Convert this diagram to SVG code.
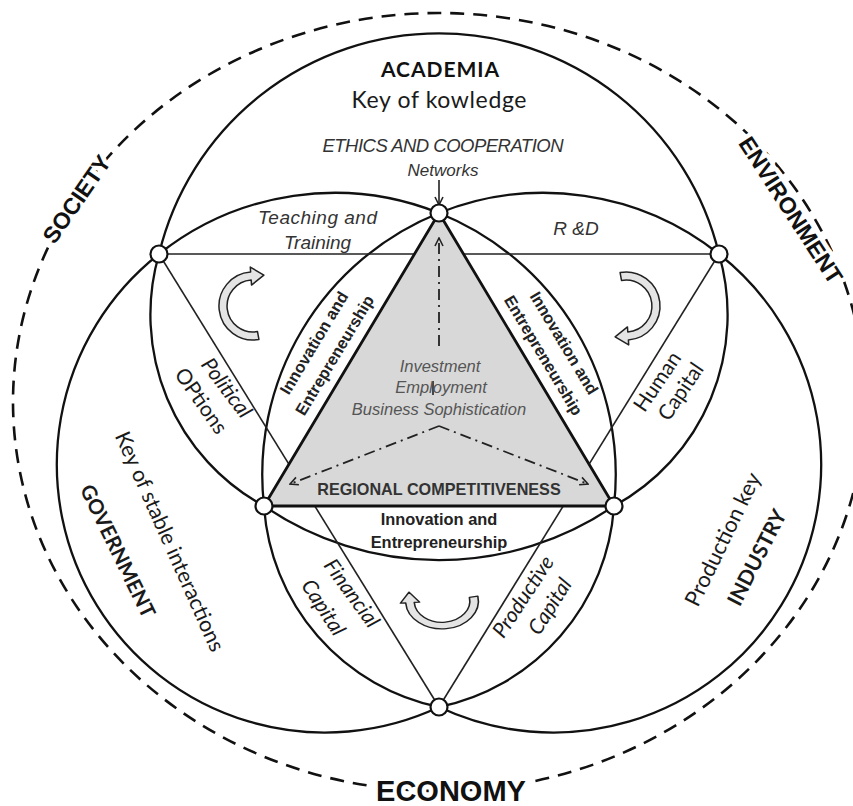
<svg xmlns="http://www.w3.org/2000/svg" width="853" height="806" viewBox="0 0 853 806">
<defs>
<style>
.c{fill:none;stroke:#111;stroke-width:2.3}
.l{fill:none;stroke:#222;stroke-width:1.6}
.dd{fill:none;stroke:#222;stroke-width:1.8;stroke-dasharray:11 5 2 5}
.dash{fill:none;stroke:#111;stroke-width:2.6;stroke-dasharray:14 9}
.nd{fill:#fff;stroke:#111;stroke-width:2.2}
.cur{fill:#e4e4e4;stroke:#222;stroke-width:1.5;stroke-linejoin:round}
text{text-anchor:middle}
.it{font-family:"Liberation Sans",Arial,sans-serif;font-style:italic;fill:#333}
.bd{font-family:"Liberation Sans",Arial,sans-serif;font-weight:bold;fill:#222}
.lt{font-family:Lato,"Open Sans",sans-serif;fill:#1a1a1a}
.lti{font-family:Lato,"Open Sans",sans-serif;font-style:italic;fill:#1a1a1a}
.halo{stroke:#fff;stroke-width:9;paint-order:stroke;stroke-linejoin:round}
</style>
<marker id="ah" viewBox="0 0 10 10" refX="9" refY="5" markerWidth="10" markerHeight="10" markerUnits="userSpaceOnUse" orient="auto"><path d="M1,1 L9,5 L1,9" fill="none" stroke="#222" stroke-width="1.6"/></marker>
<path id="carrow" d="M5.90,33.48 A34,34 0 1 1 -2.37,-33.92 L-2.72,-38.91 L10.88,-30.84 L-1.47,-20.95 L-1.81,-25.94 A26,26 0 1 0 4.51,25.61 Z"/>
</defs>
<rect width="853" height="806" fill="#fff"/>

<g id="context">
<ellipse class="dash" cx="439" cy="402" rx="426" ry="389"/>
</g>

<g id="connectors">
<path class="c" d="M159,254 A288,288 0 0 1 719,254"/>
<path class="c" d="M159,254 A268,268 0 0 0 439,707"/>
<path class="c" d="M719,254 A268,268 0 0 1 439,707"/>
<path class="c" d="M159,254 A282,282 0 0 1 439,213"/>
<path class="c" d="M439,213 A282,282 0 0 1 719,254"/>
<path class="c" d="M159,254 A218,218 0 0 0 264,506"/>
<path class="c" d="M719,254 A218,218 0 0 1 614,506"/>
<path class="c" d="M264,506 A220,220 0 0 0 439,707"/>
<path class="c" d="M614,506 A220,220 0 0 1 439,707"/>
<path class="c" d="M439,213 A282,282 0 0 0 264,506"/>
<path class="c" d="M439,213 A282,282 0 0 1 614,506"/>
<path class="c" d="M264,506 A310,310 0 0 0 614,506"/>
<path class="l" d="M159,254 L719,254"/>
<path class="l" d="M159,254 L439,707"/>
<path class="l" d="M719,254 L439,707"/>
<path class="l" d="M439,180 L439,205" marker-end="url(#ah)"/>
</g>

<g id="competitiveness">
<path d="M439,213 L614,506 L264,506 Z" fill="#d8d8d8" stroke="#111" stroke-width="2.8" stroke-linejoin="round"/>
<path class="dd" d="M439,346 L439,238" marker-end="url(#ah)"/>
<path class="dd" d="M439,426 L290,484" marker-end="url(#ah)"/>
<path class="dd" d="M439,426 L588,484" marker-end="url(#ah)"/>
<path class="l" d="M433,381 L433,395"/>
<text class="it" x="440" y="372" font-size="16.5" style="fill:#555">Investment</text>
<text class="it" x="441" y="393" font-size="16.5" style="fill:#555">Employment</text>
<text class="it" x="439" y="415" font-size="16.5" style="fill:#555">Business Sophistication</text>
<text class="bd" x="439" y="495" font-size="16.2" style="fill:#333">REGIONAL COMPETITIVENESS</text>
</g>

<g id="academia">
<text class="bd" x="440" y="77" font-size="21" style="font-family:Lato,'Open Sans',sans-serif;fill:#111" textLength="118">ACADEMIA</text>
<text class="lt" x="439" y="108" font-size="23" textLength="175">Key of kowledge</text>
<text class="it" x="443" y="152" font-size="18.5" textLength="241">ETHICS AND COOPERATION</text>
<text class="it" x="443" y="176" font-size="17">Networks</text>
</g>

<g id="lens-labels">
<text class="it" x="317.5" y="224" font-size="19" textLength="119">Teaching and</text>
<text class="it" x="317.5" y="249" font-size="19">Training</text>
<text class="it" x="576" y="235" font-size="19">R &amp;D</text>
<g transform="translate(226.5,388) rotate(53)"><text class="lti" y="7" font-size="21">Political</text></g>
<g transform="translate(201,401) rotate(55)"><text class="lt" y="7" font-size="21">OPtions</text></g>
<g transform="translate(657.5,381.7) rotate(-56)"><text class="lt" y="7" font-size="21">Human</text></g>
<g transform="translate(680.8,391.7) rotate(-56)"><text class="lt" y="7" font-size="21">Capital</text></g>
<g transform="translate(351.7,593.3) rotate(54)"><text class="lti" y="7" font-size="21">Financial</text></g>
<g transform="translate(323.3,607.5) rotate(57)"><text class="lti" y="7" font-size="21">Capital</text></g>
<g transform="translate(523.3,596.7) rotate(-56.5)"><text class="lti" y="7" font-size="21">Productive</text></g>
<g transform="translate(550,606.5) rotate(-57.5)"><text class="lti" y="7" font-size="21">Capital</text></g>
</g>

<g id="innovation-labels">
<g transform="translate(324,349) rotate(-59)">
<text class="bd" y="-6" font-size="16.4">Innovation and</text>
<text class="bd" y="18" font-size="16.4">Entrepreneurship</text>
</g>
<g transform="translate(554,349) rotate(59)">
<text class="bd" y="-6" font-size="16.4">Innovation and</text>
<text class="bd" y="18" font-size="16.4">Entrepreneurship</text>
</g>
<text class="bd" x="439" y="525" font-size="16.4">Innovation and</text>
<text class="bd" x="439" y="548" font-size="16.4">Entrepreneurship</text>
</g>

<g id="government">
<g transform="translate(168.5,542) rotate(66)"><text class="lt" y="6" font-size="21.5">Key of stable interactions</text></g>
<g transform="translate(118,551) rotate(64)"><text class="lt" y="7.5" font-size="20.5" font-weight="bold">GOVERNMENT</text></g>
</g>

<g id="industry">
<g transform="translate(724.2,540) rotate(-64)"><text class="lt" y="6" font-size="22">Production key</text></g>
<g transform="translate(756.7,557.5) rotate(-63)"><text class="lt" y="7.5" font-size="21" font-weight="bold">INDUSTRY</text></g>
</g>

<g id="society">
<g transform="translate(76.5,199) rotate(-55.3)"><text class="bd halo" y="8.2" font-size="23" style="fill:#111">SOCIETY</text></g>
</g>
<g id="environment">
<g transform="translate(791,210) rotate(57)"><text class="bd halo" y="8.2" font-size="23" style="fill:#111">ENVIRONMENT</text></g>
</g>
<g id="economy">
<text class="bd halo" x="451" y="801" font-size="29" style="fill:#111">ECONOMY</text>
</g>

<g id="cycle-arrows">
<use href="#carrow" class="cur" transform="translate(253,306)"/>
<use href="#carrow" class="cur" transform="translate(626,306) rotate(180)"/>
<use href="#carrow" class="cur" transform="translate(442,601) scale(1.07,0.82) rotate(-90)"/>
</g>

<g id="node-top"><circle class="nd" cx="439" cy="213" r="8.5"/></g>
<g id="node-left"><circle class="nd" cx="159" cy="254" r="8.5"/></g>
<g id="node-right"><circle class="nd" cx="719" cy="254" r="8.5"/></g>
<g id="node-bottom-left"><circle class="nd" cx="264" cy="506" r="8.5"/></g>
<g id="node-bottom-right"><circle class="nd" cx="614" cy="506" r="8.5"/></g>
<g id="node-bottom"><circle class="nd" cx="439" cy="707" r="8.5"/></g>
</svg>
